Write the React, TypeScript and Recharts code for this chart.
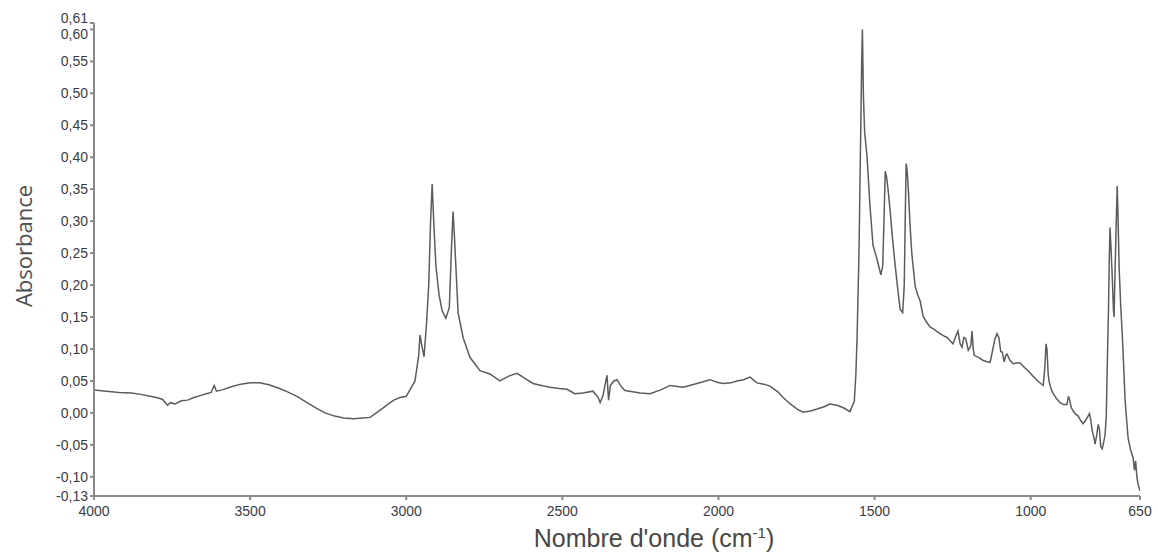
import { Line, LineChart, XAxis, YAxis } from "recharts"

// FTIR spectrum (cm-1, absorbance)
const WAVENUMBERS = [
  4000, 3960, 3920, 3880, 3850, 3820, 3800, 3780, 3765, 3755, 3740, 3720, 3700, 3680, 3660, 3640,
  3625, 3615, 3608, 3590, 3560, 3530, 3500, 3470, 3440, 3410, 3380, 3350, 3320, 3290, 3260, 3230,
  3200, 3170, 3140, 3116, 3090, 3060, 3040, 3020, 3000, 2988, 2972, 2960, 2956, 2950, 2943, 2935,
  2928, 2922, 2917, 2912, 2905, 2895, 2885, 2873, 2862, 2855, 2850, 2845, 2834, 2818, 2796, 2764,
  2732, 2700, 2670, 2645, 2620, 2594, 2560, 2539, 2510, 2485, 2460, 2434, 2402, 2385, 2379, 2370,
  2357, 2352, 2346, 2335, 2325, 2310, 2299, 2251, 2219, 2185, 2155, 2113, 2069, 2027, 2005, 1985,
  1960, 1941, 1920, 1899, 1877, 1855, 1835, 1810, 1793, 1770, 1748, 1729, 1705, 1684, 1660, 1643,
  1620, 1600, 1579, 1565, 1560, 1556, 1550, 1545, 1541, 1539, 1536, 1532, 1524, 1515, 1505, 1492,
  1480, 1474, 1470, 1466, 1462, 1457, 1450, 1442, 1434, 1425, 1418, 1410, 1405, 1402, 1399, 1396,
  1392, 1386, 1381, 1370, 1362, 1354, 1345, 1335, 1322, 1310, 1300, 1290, 1280, 1268, 1258, 1249,
  1240, 1233, 1226, 1220, 1214, 1208, 1200, 1192, 1188, 1184, 1181, 1165, 1152, 1140, 1130, 1122,
  1115, 1108, 1102, 1096, 1091, 1085, 1080, 1076, 1066, 1056, 1045, 1034, 1020, 1008, 994, 980,
  968, 960, 955, 951, 948, 944, 941, 935, 928, 917, 906, 895, 884, 879, 875, 870,
  864, 856, 848, 840, 832, 822, 812, 808, 803, 797, 794, 789, 784, 780, 776, 771,
  766, 762, 758, 755, 751, 748, 746, 743, 739, 735, 733, 730, 726, 723, 720, 717,
  712, 707, 702, 698, 693, 688, 680, 672, 668, 664, 660, 656, 650,
]

const ABSORBANCE = [
  0.036, 0.034, 0.032, 0.031, 0.029, 0.026, 0.024, 0.021, 0.012, 0.016, 0.014, 0.019, 0.02, 0.024, 0.027, 0.03,
  0.032, 0.043, 0.034, 0.036, 0.041, 0.045, 0.047, 0.047, 0.044, 0.039, 0.033, 0.026, 0.017, 0.008, 0.0, -0.005,
  -0.008, -0.009, -0.008, -0.007, 0.002, 0.013, 0.02, 0.024, 0.026, 0.036, 0.05, 0.09, 0.122, 0.105, 0.088, 0.14,
  0.2, 0.3, 0.358, 0.3, 0.23, 0.185, 0.16, 0.148, 0.165, 0.26, 0.315, 0.27, 0.157, 0.118, 0.087, 0.066,
  0.061, 0.05, 0.058, 0.062, 0.054, 0.046, 0.042, 0.04, 0.038, 0.037, 0.03, 0.031, 0.034, 0.024, 0.016, 0.027,
  0.059, 0.02, 0.043, 0.05, 0.052, 0.04, 0.035, 0.031, 0.03, 0.036, 0.043, 0.04, 0.046, 0.052, 0.048, 0.046,
  0.047, 0.05, 0.052, 0.056, 0.047, 0.045, 0.042, 0.033, 0.024, 0.014, 0.006, 0.001, 0.003, 0.006, 0.01, 0.014,
  0.012, 0.008, 0.002, 0.018, 0.06, 0.12, 0.25, 0.42, 0.56, 0.6, 0.5, 0.44, 0.4, 0.325, 0.262, 0.24,
  0.216, 0.23, 0.3, 0.378, 0.37, 0.35, 0.315, 0.27, 0.23, 0.19, 0.162, 0.157, 0.2, 0.3, 0.39, 0.38,
  0.35, 0.29, 0.25, 0.198, 0.185, 0.175, 0.152, 0.143, 0.134, 0.131, 0.127, 0.124, 0.121, 0.118, 0.113, 0.108,
  0.12, 0.128, 0.108, 0.103, 0.118, 0.116, 0.098, 0.105, 0.128, 0.1, 0.09, 0.086, 0.082, 0.08, 0.079, 0.098,
  0.115, 0.124, 0.118, 0.096, 0.095, 0.08, 0.09, 0.092, 0.082, 0.077, 0.078, 0.078, 0.071, 0.066, 0.058, 0.051,
  0.046, 0.043, 0.07, 0.108, 0.1, 0.06, 0.049, 0.038, 0.03, 0.022, 0.016, 0.013, 0.013, 0.026, 0.02, 0.008,
  0.003, -0.002, -0.005, -0.012, -0.017, -0.01, -0.001, -0.01, -0.028, -0.04, -0.049, -0.036, -0.018, -0.025, -0.052, -0.056,
  -0.045, -0.035, -0.005, 0.07, 0.16, 0.25, 0.29, 0.26, 0.215, 0.16, 0.15, 0.22, 0.3, 0.355, 0.3, 0.23,
  0.17, 0.125, 0.07, 0.022, -0.01, -0.04, -0.058, -0.07, -0.09, -0.075, -0.1, -0.112, -0.122,
]

const X_TICKS = [4000, 3500, 3000, 2500, 2000, 1500, 1000, 650]
const Y_TICKS = [-0.13, -0.1, -0.05, 0, 0.05, 0.1, 0.15, 0.2, 0.25, 0.3, 0.35, 0.4, 0.45, 0.5, 0.55, 0.6, 0.61]

const AXIS = "#8a8a8a"
const TICK_TEXT = "#3b3b48"
const TRACE = "#5c5c5c"

const spectrum = WAVENUMBERS.map((w, i) => ({ w, a: ABSORBANCE[i] }))

const fmtY = (v: number) => v.toFixed(2).replace(".", ",")

// 0,61 and 0,60 sit 6px apart, nudge them apart like the original does
function YTick(props: any) {
  const { x, y, payload } = props
  const v = payload.value
  const nudge = v === 0.61 ? -5 : v === 0.6 ? 5 : 0
  return (
    <text x={x} y={y + nudge} dy="0.355em" textAnchor="end" fill={TICK_TEXT} fontSize={14}>
      {fmtY(v)}
    </text>
  )
}

export default function App() {
  return (
    <div
      style={{
        position: "absolute",
        left: 0,
        top: 0,
        width: 1158,
        height: 555,
        background: "#fff",
        fontFamily: "'Liberation Sans', Arial, sans-serif",
      }}
    >
      <LineChart width={1158} height={555} data={spectrum} margin={{ top: 23, right: 18, bottom: 29, left: 0 }}>
        <XAxis
          dataKey="w"
          type="number"
          domain={[650, 4000]}
          reversed
          ticks={X_TICKS}
          interval={0}
          allowDataOverflow
          height={30}
          stroke={AXIS}
          strokeWidth={2}
          tickSize={4}
          tickMargin={6}
          tick={{ fill: TICK_TEXT, fontSize: 14 }}
        />
        <YAxis
          type="number"
          domain={[-0.13, 0.61]}
          ticks={Y_TICKS}
          interval={0}
          allowDataOverflow
          width={94}
          stroke={AXIS}
          strokeWidth={2}
          tickSize={4}
          tickMargin={2}
          tick={<YTick />}
        />
        <Line
          dataKey="a"
          type="linear"
          stroke={TRACE}
          strokeWidth={1.5}
          dot={false}
          isAnimationActive={false}
        />
      </LineChart>
      <div
        style={{
          position: "absolute",
          left: 23,
          top: 246,
          transform: "translate(-50%, -50%) rotate(-90deg)",
          fontSize: 22,
          color: "#505050",
          fontFamily: "'Open Sans', sans-serif",
          whiteSpace: "nowrap",
        }}
      >
        Absorbance
      </div>
      <div
        style={{
          position: "absolute",
          left: 654,
          top: 524,
          transform: "translateX(-50%)",
          fontSize: 25,
          lineHeight: "28px",
          color: "#474747",
          whiteSpace: "nowrap",
        }}
      >
        Nombre d'onde (cm<sup style={{ fontSize: 15, lineHeight: 0 }}>-1</sup>)
      </div>
    </div>
  )
}
